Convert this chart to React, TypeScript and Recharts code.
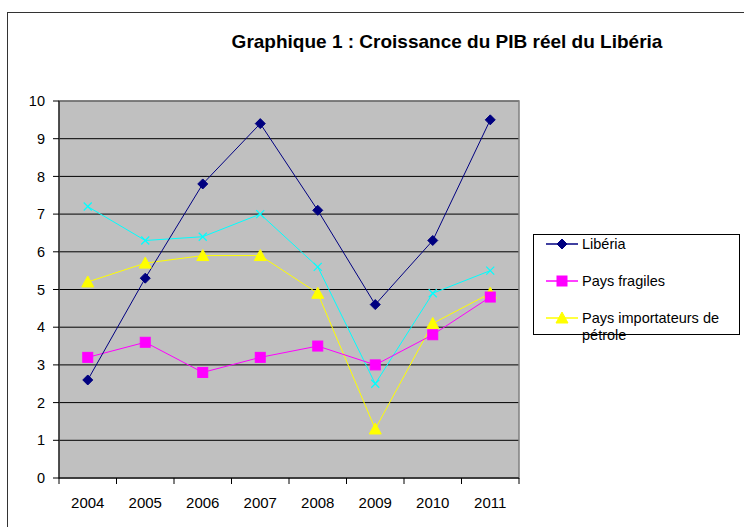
import React from 'react'
import { LineChart, Line, XAxis, YAxis, CartesianGrid, Legend, ReferenceArea } from 'recharts'

const years = ['2004', '2005', '2006', '2007', '2008', '2009', '2010', '2011']
const liberia = [2.6, 5.3, 7.8, 9.4, 7.1, 4.6, 6.3, 9.5]
const paysFragiles = [3.2, 3.6, 2.8, 3.2, 3.5, 3.0, 3.8, 4.8]
const importateurs = [5.2, 5.7, 5.9, 5.9, 4.9, 1.3, 4.1, 4.9]
// series without a legend entry in the original
const autres = [7.2, 6.3, 6.4, 7.0, 5.6, 2.5, 4.9, 5.5]
const yTicks = [0, 1, 2, 3, 4, 5, 6, 7, 8, 9, 10]

const data = years.map((year, i) => ({
  year,
  liberia: liberia[i],
  fragiles: paysFragiles[i],
  importateurs: importateurs[i],
  autres: autres[i],
}))

const font = '"Liberation Sans", Arial, sans-serif'

type Shape = 'diamond' | 'square' | 'triangle' | 'cross'

function Marker({ shape, cx, cy, color }: { shape: Shape; cx: number; cy: number; color: string }) {
  if (cx == null || cy == null) return null
  if (shape === 'diamond') {
    return <polygon points={`${cx},${cy - 5} ${cx + 5},${cy} ${cx},${cy + 5} ${cx - 5},${cy}`} fill={color} stroke={color} />
  }
  if (shape === 'square') {
    return <rect x={cx - 5} y={cy - 5} width={10} height={10} fill={color} stroke={color} />
  }
  if (shape === 'triangle') {
    return <polygon points={`${cx},${cy - 6} ${cx + 6},${cy + 5} ${cx - 6},${cy + 5}`} fill={color} stroke={color} />
  }
  return (
    <g stroke={color} strokeWidth={1.3}>
      <line x1={cx - 4} y1={cy - 4} x2={cx + 4} y2={cy + 4} />
      <line x1={cx - 4} y1={cy + 4} x2={cx + 4} y2={cy - 4} />
    </g>
  )
}

const dot = (shape: Shape, color: string) => (props: any) => (
  <Marker key={`${shape}-${props.index}`} shape={shape} cx={props.cx} cy={props.cy} color={color} />
)

const XTick = (props: any) => {
  const { x, y, payload, index, width, visibleTicksCount } = props
  const band = width / visibleTicksCount
  return (
    <g>
      <line x1={x - band / 2} y1={y} x2={x - band / 2} y2={y + 6} stroke="#000" />
      {index === visibleTicksCount - 1 && (
        <line x1={x + band / 2} y1={y} x2={x + band / 2} y2={y + 6} stroke="#000" />
      )}
      <text x={x} y={y + 30} textAnchor="middle" fontSize={15} fill="#000" fontFamily={font}>
        {payload.value}
      </text>
    </g>
  )
}

const shapes: Record<string, Shape> = {
  'Libéria': 'diamond',
  'Pays fragiles': 'square',
  'Pays importateurs de pétrole': 'triangle',
}

const renderLegend = (props: any) => {
  const items = (props.payload || []).filter((p: any) => p.type !== 'none')
  return (
    <div
      style={{
        width: 207,
        height: 101,
        boxSizing: 'border-box',
        border: '1px solid #000',
        background: '#fff',
        fontFamily: font,
        fontSize: 14.5,
        color: '#000',
        paddingTop: 1,
      }}
    >
      {items.map((item: any) => (
        <div key={item.value} style={{ display: 'flex', alignItems: 'flex-start', height: 37 }}>
          <svg width={48} height={16} style={{ flex: 'none' }}>
            <line x1={12} y1={8} x2={44} y2={8} stroke={item.color} strokeWidth={1.5} />
            <Marker shape={shapes[item.value]} cx={28} cy={8} color={item.color} />
          </svg>
          <span style={{ lineHeight: '17px', width: 150 }}>{item.value}</span>
        </div>
      ))}
    </div>
  )
}

export default function App() {
  return (
    <div style={{ position: 'absolute', left: 0, top: 0, width: 744, height: 527, background: '#fff', overflow: 'hidden' }}>
      <div style={{ position: 'absolute', left: 7, top: 12, width: 760, height: 540, border: '1px solid #333' }} />
      <div
        style={{
          position: 'absolute',
          left: 200,
          top: 31,
          width: 494,
          textAlign: 'center',
          fontFamily: font,
          fontWeight: 'bold',
          fontSize: 19,
          color: '#000',
          whiteSpace: 'nowrap',
        }}
      >
        Graphique 1 : Croissance du PIB réel du Libéria
      </div>
      <LineChart width={744} height={527} data={data} margin={{ top: 101, right: 225, bottom: 0, left: 0 }}>
        <CartesianGrid vertical={false} stroke="#000" fill="#C0C0C0" fillOpacity={1} />
        <ReferenceArea y1={0} y2={10} fill="none" stroke="#808080" strokeWidth={1.5} />
        <XAxis
          dataKey="year"
          scale="band"
          height={49}
          tickLine={false}
          tickSize={0}
          tickMargin={0}
          axisLine={{ stroke: '#000' }}
          tick={<XTick />}
          interval={0}
        />
        <YAxis
          width={59}
          domain={[0, 10]}
          ticks={yTicks}
          interval={0}
          tickSize={6}
          tickMargin={8}
          axisLine={{ stroke: '#000' }}
          tickLine={{ stroke: '#000' }}
          tick={{ fill: '#000', fontSize: 14.5, fontFamily: font }}
        />
        <Line dataKey="autres" name="autres" stroke="#00FFFF" strokeWidth={1} dot={dot('cross', '#00FFFF')} legendType="none" isAnimationActive={false} />
        <Line dataKey="importateurs" name="Pays importateurs de pétrole" stroke="#FFFF00" strokeWidth={1} dot={dot('triangle', '#FFFF00')} isAnimationActive={false} />
        <Line dataKey="fragiles" name="Pays fragiles" stroke="#FF00FF" strokeWidth={1} dot={dot('square', '#FF00FF')} isAnimationActive={false} />
        <Line dataKey="liberia" name="Libéria" stroke="#000080" strokeWidth={1} dot={dot('diamond', '#000080')} isAnimationActive={false} />
        <Legend
          layout="vertical"
          align="center"
          verticalAlign="middle"
          content={renderLegend}
          wrapperStyle={{ left: 533, top: 234, width: 207, height: 101 }}
          itemSorter={(item: any) => ['Libéria', 'Pays fragiles', 'Pays importateurs de pétrole'].indexOf(item.value)}
        />
      </LineChart>
    </div>
  )
}
